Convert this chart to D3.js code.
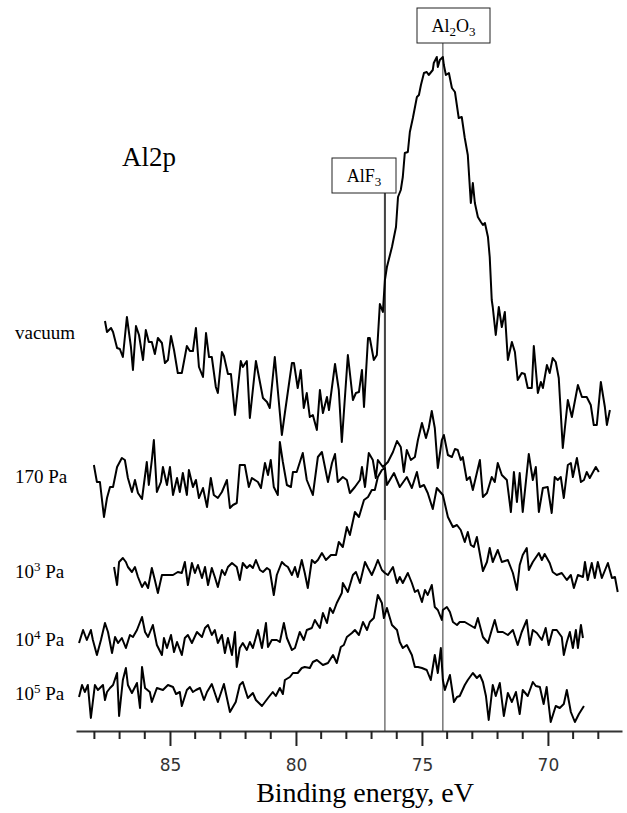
<!DOCTYPE html>
<html lang="en">
<head>
<meta charset="UTF-8">
<title>Al2p spectra</title>
<script src="https://cdn.jsdelivr.net/npm/d3@7"></script>
<style>
  body { margin: 0; background: #fff; }
  svg { display: block; }
</style>
</head>
<body>
<div id="chart"></div>
<script>
// [binding energy (eV), intensity (a.u., offset included)]
const vacuum = [
  [87.58,410],[87.50,399],[87.34,403],[87.26,399],[87.10,383],[86.99,382],[86.87,374],[86.71,414],
  [86.55,384],[86.47,361],[86.35,405],[86.23,396],[86.07,371],[85.96,401],[85.84,389],[85.72,389],
  [85.60,377],[85.48,393],[85.32,388],[85.20,368],[85.08,371],[84.96,395],[84.84,381],[84.69,358],
  [84.53,358],[84.33,385],[84.21,380],[84.09,380],[83.97,403],[83.85,364],[83.69,354],[83.57,398],
  [83.45,374],[83.34,374],[83.18,344],[83.10,338],[82.94,379],[82.86,375],[82.70,357],[82.58,357],
  [82.42,316],[82.19,370],[82.11,364],[81.95,370],[81.83,313],[81.59,370],[81.31,333],[81.15,329],
  [81.04,323],[80.84,374],[80.56,296],[80.44,318],[80.16,368],[80.08,368],[79.93,343],[79.81,361],
  [79.69,323],[79.57,338],[79.45,314],[79.33,316],[79.17,301],[79.05,341],[78.93,318],[78.77,334],
  [78.69,321],[78.45,367],[78.30,341],[78.18,289],[77.94,376],[77.74,331],[77.62,338],[77.50,339],
  [77.38,361],[77.30,324],[77.14,393],[77.07,393],[76.91,371],[76.79,376],[76.67,427],[76.55,419],
  [76.47,451],[76.39,464],[76.19,484],[76.03,504],[75.95,534],[75.84,541],[75.76,554],[75.68,578],
  [75.56,579],[75.48,599],[75.36,613],[75.20,634],[75.12,636],[75.04,646],[74.92,658],[74.81,659],
  [74.73,656],[74.57,661],[74.53,668],[74.41,674],[74.37,664],[74.29,671],[74.17,674],[74.13,666],
  [74.05,656],[73.93,658],[73.81,643],[73.69,639],[73.54,613],[73.42,614],[73.30,593],[73.18,576],
  [73.06,528],[72.98,548],[72.90,528],[72.78,514],[72.66,509],[72.58,506],[72.50,508],[72.38,494],
  [72.31,474],[72.23,431],[72.19,424],[72.07,396],[71.95,424],[71.83,404],[71.71,419],[71.59,371],
  [71.43,389],[71.31,379],[71.20,351],[71.04,358],[70.92,357],[70.80,343],[70.64,343],[70.56,385],
  [70.40,338],[70.28,349],[70.20,343],[70.04,366],[69.93,358],[69.81,373],[69.69,369],[69.57,353],
  [69.41,283],[69.21,331],[69.05,314],[68.81,346],[68.65,334],[68.46,334],[68.30,326],[68.18,306],
  [68.06,306],[67.90,349],[67.74,324],[67.66,306],[67.54,321]
];

const pa170 = [
  [88.02,266],[87.90,249],[87.78,249],[87.62,214],[87.50,233],[87.38,244],[87.26,244],[87.10,264],
  [86.91,273],[86.79,271],[86.67,253],[86.51,239],[86.39,251],[86.27,238],[86.11,232],[85.92,269],
  [85.84,246],[85.72,271],[85.64,291],[85.52,239],[85.36,249],[85.28,264],[85.12,246],[85.00,264],
  [84.88,236],[84.72,253],[84.61,239],[84.49,258],[84.33,236],[84.25,261],[84.09,244],[83.97,251],
  [83.85,233],[83.69,243],[83.53,224],[83.38,253],[83.26,236],[83.10,233],[82.94,239],[82.74,251],
  [82.62,223],[82.50,226],[82.35,228],[82.23,266],[82.03,266],[81.87,244],[81.75,253],[81.51,249],
  [81.39,243],[81.23,268],[81.11,256],[81.00,271],[80.88,244],[80.72,236],[80.64,289],[80.52,269],
  [80.36,246],[80.20,244],[80.12,259],[79.97,259],[79.73,278],[79.57,251],[79.33,236],[79.13,274],
  [78.97,279],[78.73,249],[78.57,268],[78.45,277],[78.34,249],[78.14,254],[77.98,251],[77.86,238],
  [77.66,244],[77.46,251],[77.38,264],[77.26,244],[77.11,278],[76.95,271],[76.83,253],[76.75,271],
  [76.55,264],[76.35,269],[76.15,279],[75.99,290],[75.84,284],[75.72,259],[75.60,281],[75.44,271],
  [75.28,274],[75.16,291],[75.00,308],[74.84,293],[74.73,303],[74.61,320],[74.49,303],[74.37,263],
  [74.21,291],[74.13,296],[73.97,276],[73.81,274],[73.69,282],[73.58,281],[73.46,271],[73.38,274],
  [73.22,251],[73.10,254],[72.98,241],[72.70,271],[72.58,234],[72.42,238],[72.23,254],[72.11,249],
  [71.99,268],[71.83,256],[71.63,251],[71.47,219],[71.35,259],[71.23,229],[71.12,258],[71.00,219],
  [70.76,277],[70.60,251],[70.48,264],[70.36,219],[70.20,243],[70.01,244],[69.85,218],[69.73,254],
  [69.61,251],[69.49,254],[69.37,233],[69.21,266],[69.09,268],[69.01,254],[68.85,273],[68.69,249],
  [68.57,251],[68.46,259],[68.34,253],[68.10,264],[67.98,259]
];

const pa1e3 = [
  [87.22,164],[87.10,146],[87.02,169],[86.87,173],[86.75,169],[86.67,164],[86.51,159],[86.39,164],
  [86.27,154],[86.11,144],[85.99,149],[85.87,143],[85.72,163],[85.60,151],[85.48,138],[85.32,156],
  [85.12,156],[84.88,156],[84.69,159],[84.53,158],[84.41,169],[84.29,146],[84.13,168],[84.01,158],
  [83.89,166],[83.73,153],[83.61,164],[83.49,146],[83.34,163],[83.22,154],[83.10,144],[82.94,161],
  [82.82,156],[82.70,164],[82.54,168],[82.35,164],[82.23,151],[82.11,168],[81.95,163],[81.83,166],
  [81.71,163],[81.59,171],[81.43,161],[81.31,159],[81.15,163],[81.04,161],[80.88,136],[80.76,156],
  [80.56,169],[80.44,166],[80.32,164],[80.16,156],[80.04,164],[79.93,154],[79.77,171],[79.65,158],
  [79.53,143],[79.37,171],[79.25,168],[79.13,171],[78.97,178],[78.81,171],[78.61,176],[78.41,176],
  [78.30,189],[78.14,184],[77.98,204],[77.86,196],[77.66,219],[77.50,214],[77.30,231],[77.14,234],
  [76.99,241],[76.87,241],[76.75,254],[76.59,261],[76.47,263],[76.39,246],[76.11,258],[75.88,244],
  [75.60,254],[75.40,243],[75.20,259],[75.08,244],[74.92,246],[74.77,238],[74.57,222],[74.41,243],
  [74.17,236],[73.97,214],[73.77,204],[73.61,206],[73.46,201],[73.30,189],[73.18,199],[73.06,186],
  [72.94,184],[72.82,194],[72.58,160],[72.42,169],[72.31,183],[72.19,169],[71.99,181],[71.83,169],
  [71.59,171],[71.39,158],[71.23,141],[71.12,166],[71.00,176],[70.84,183],[70.76,161],[70.60,169],
  [70.36,178],[70.24,171],[70.13,177],[69.93,168],[69.81,159],[69.65,156],[69.45,158],[69.25,151],
  [69.09,156],[68.97,143],[68.81,156],[68.61,154],[68.53,169],[68.42,151],[68.26,168],[68.14,153],
  [68.02,169],[67.86,153],[67.62,168],[67.46,153],[67.34,154],[67.23,139]
];

const pa1e4 = [
  [88.61,88],[88.45,101],[88.30,91],[88.14,101],[88.06,91],[87.90,76],[87.74,91],[87.58,108],
  [87.46,99],[87.30,78],[87.18,94],[87.06,88],[86.91,93],[86.75,83],[86.59,96],[86.47,94],
  [86.31,101],[86.11,114],[85.99,99],[85.87,94],[85.68,106],[85.52,86],[85.32,76],[85.24,93],
  [85.12,83],[84.96,96],[84.84,79],[84.72,89],[84.53,76],[84.41,93],[84.29,96],[84.13,88],
  [83.93,99],[83.73,94],[83.61,103],[83.49,106],[83.34,96],[83.22,101],[83.10,88],[82.94,96],
  [82.82,78],[82.70,93],[82.54,76],[82.42,99],[82.35,64],[82.23,83],[82.11,88],[81.95,81],
  [81.83,89],[81.71,83],[81.51,101],[81.35,83],[81.19,108],[81.11,84],[80.96,91],[80.76,91],
  [80.64,89],[80.48,108],[80.36,93],[80.16,81],[80.04,83],[79.85,99],[79.69,91],[79.57,101],
  [79.37,103],[79.25,111],[79.13,106],[79.05,103],[78.93,118],[78.77,108],[78.65,123],[78.53,118],
  [78.38,128],[78.18,138],[78.14,148],[77.94,139],[77.74,156],[77.62,159],[77.46,148],[77.26,169],
  [77.14,163],[76.99,156],[76.87,163],[76.75,171],[76.59,161],[76.47,158],[76.35,156],[76.15,164],
  [75.99,148],[75.88,154],[75.76,148],[75.56,158],[75.40,148],[75.28,139],[75.16,141],[75.00,129],
  [74.88,141],[74.77,136],[74.61,146],[74.49,124],[74.37,121],[74.21,111],[74.17,121],[74.01,124],
  [73.89,119],[73.77,109],[73.61,106],[73.50,109],[73.30,109],[73.10,106],[72.90,103],[72.78,113],
  [72.58,94],[72.38,88],[72.23,101],[72.11,111],[71.99,99],[71.79,99],[71.59,96],[71.39,101],
  [71.20,86],[71.04,99],[70.84,111],[70.72,86],[70.60,101],[70.44,98],[70.24,91],[70.09,103],
  [69.97,86],[69.81,101],[69.65,101],[69.45,94],[69.37,76],[69.25,89],[69.13,99],[69.01,83],
  [68.89,101],[68.81,83],[68.69,106],[68.61,93]
];

const pa1e5 = [
  [88.61,34],[88.49,46],[88.38,39],[88.26,46],[88.14,13],[87.98,46],[87.86,41],[87.66,46],
  [87.58,31],[87.50,39],[87.38,43],[87.26,46],[87.10,58],[87.02,15],[86.87,51],[86.75,63],
  [86.67,46],[86.51,38],[86.31,48],[86.19,23],[86.11,64],[85.99,43],[85.80,39],[85.72,29],
  [85.52,43],[85.28,41],[85.08,46],[84.88,44],[84.76,37],[84.61,39],[84.53,25],[84.33,41],
  [84.21,44],[84.09,39],[83.97,41],[83.81,43],[83.65,31],[83.53,39],[83.34,47],[83.10,29],
  [82.86,47],[82.62,19],[82.39,29],[82.23,46],[82.11,49],[81.91,33],[81.71,38],[81.59,31],
  [81.35,25],[81.11,33],[80.92,39],[80.80,35],[80.64,43],[80.52,37],[80.44,51],[80.24,54],
  [80.12,58],[79.93,58],[79.77,63],[79.65,64],[79.45,63],[79.33,69],[79.17,71],[78.93,66],
  [78.73,68],[78.53,76],[78.38,68],[78.22,84],[78.10,86],[77.98,94],[77.78,98],[77.66,101],
  [77.50,96],[77.34,109],[77.18,101],[77.07,109],[76.91,113],[76.75,136],[76.59,128],[76.51,113],
  [76.39,123],[76.19,106],[75.99,101],[75.88,89],[75.76,83],[75.60,86],[75.40,76],[75.28,64],
  [75.16,64],[75.00,63],[74.81,61],[74.65,51],[74.49,76],[74.37,58],[74.25,83],[74.17,51],
  [74.09,41],[73.89,56],[73.73,29],[73.61,34],[73.50,35],[73.30,46],[73.18,51],[72.98,58],
  [72.82,53],[72.70,56],[72.58,49],[72.46,35],[72.35,11],[72.19,46],[72.07,35],[71.91,48],
  [71.75,15],[71.59,38],[71.43,29],[71.27,39],[71.12,17],[71.00,41],[70.80,35],[70.60,49],
  [70.48,45],[70.32,44],[70.17,27],[70.05,44],[69.89,9],[69.69,25],[69.53,23],[69.37,27],
  [69.25,41],[69.09,19],[68.93,9],[68.77,17],[68.57,25]
];

const seriesData = [vacuum, pa170, pa1e3, pa1e4, pa1e5];
const seriesNames = ["vacuum", "170 Pa", "10^3 Pa", "10^4 Pa", "10^5 Pa"];

// reference peak positions (eV)
const peakNames = ["AlF_3", "Al_2O_3"];
const peakEnergies = [76.47, 74.17];

const majorTicks = [85, 80, 75, 70];
const minorTicks = [88, 87, 86, 84, 83, 82, 81, 79, 78, 77, 76, 74, 73, 72, 71, 69, 68];

var width = 627, height = 813;
var svg = d3.select("#chart").append("svg")
    .attr("width", width)
    .attr("height", height);

var x = d3.scaleLinear().domain([88.73, 67.06]).range([76, 622]);
var y = d3.scaleLinear().domain([0, 700]).range([731, 31]);

var serif = "'Liberation Serif', 'Times New Roman', serif";

// marker lines
var lineTop = [193, 43];
svg.selectAll(".peakline")
    .data(peakEnergies)
    .enter().append("line")
    .attr("class", "peakline")
    .attr("x1", d => x(d)).attr("x2", d => x(d))
    .attr("y1", (d, i) => lineTop[i]).attr("y2", y(0))
    .attr("stroke", "#555").attr("stroke-width", 1.2);

// the AlF3 marker is drawn heavier in its upper part
svg.append("line")
    .attr("x1", x(peakEnergies[0])).attr("x2", x(peakEnergies[0]))
    .attr("y1", lineTop[0]).attr("y2", 520)
    .attr("stroke", "#444").attr("stroke-width", 2);

// spectra
var line = d3.line().x(d => x(d[0])).y(d => y(d[1]));
svg.selectAll(".spec")
    .data(seriesData)
    .enter().append("path")
    .attr("class", "spec")
    .attr("d", line)
    .attr("fill", "none")
    .attr("stroke", "#000")
    .attr("stroke-width", 2)
    .attr("stroke-linejoin", "round");

// x axis
var axis = svg.append("g")
    .attr("transform", "translate(0," + y(0) + ")")
    .call(d3.axisBottom(x).tickValues(majorTicks).tickSize(15).tickSizeOuter(0).tickPadding(13));
axis.select(".domain").attr("stroke", "#333").attr("stroke-width", 2);
axis.selectAll(".tick line").attr("stroke", "#222").attr("stroke-width", 2);
axis.selectAll(".tick text")
    .attr("font-family", "'DejaVu Sans', Verdana, sans-serif")
    .attr("font-size", 17)
    .attr("fill", "#333");

axis.selectAll(".minor")
    .data(minorTicks)
    .enter().append("line")
    .attr("class", "minor")
    .attr("x1", d => x(d)).attr("x2", d => x(d))
    .attr("y1", 0).attr("y2", 8)
    .attr("stroke", "#222").attr("stroke-width", 2);

svg.append("text")
    .attr("x", 365).attr("y", 802)
    .attr("text-anchor", "middle")
    .attr("font-family", serif)
    .attr("font-size", 28)
    .text("Binding energy, eV");

// series labels
var labelY = [339, 483, 578, 646, 700];
seriesNames.forEach(function(name, i) {
    var t = svg.append("text")
        .attr("x", 15).attr("y", labelY[i])
        .attr("font-family", serif)
        .attr("font-size", 19);
    var m = name.split("^");
    if (m.length == 1) {
        t.text(name);
    } else {
        t.append("tspan").text(m[0]);
        var rest = m[1].split(" ");
        t.append("tspan").attr("dy", -7).attr("font-size", 13).text(rest[0]);
        t.append("tspan").attr("dy", 7).text(" " + rest.slice(1).join(" "));
    }
});

svg.append("text")
    .attr("x", 122).attr("y", 166)
    .attr("font-family", serif)
    .attr("font-size", 27)
    .text("Al2p");

// peak boxes
var boxes = [[332, 158, 64, 35], [417, 8, 73, 35]];
peakNames.forEach(function(name, i) {
    var b = boxes[i];
    svg.append("rect")
        .attr("x", b[0]).attr("y", b[1])
        .attr("width", b[2]).attr("height", b[3])
        .attr("fill", "#fff").attr("stroke", "#222").attr("stroke-width", 1);
    var t = svg.append("text")
        .attr("x", b[0] + b[2] / 2).attr("y", b[1] + 24)
        .attr("text-anchor", "middle")
        .attr("font-family", serif)
        .attr("font-size", 18);
    name.split("_").forEach(function(part, j) {
        if (j == 0) { t.append("tspan").text(part); return; }
        t.append("tspan").attr("dy", 4).attr("font-size", 13).text(part[0]);
        if (part.length > 1) t.append("tspan").attr("dy", -4).text(part.slice(1));
    });
});
</script>
</body>
</html>
